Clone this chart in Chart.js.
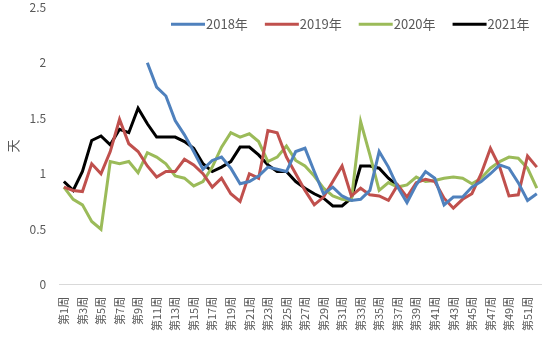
<!DOCTYPE html>
<html>
<head>
<meta charset="utf-8">
<script src="https://cdn.jsdelivr.net/npm/chart.js@4/dist/chart.umd.min.js"></script>
<style>
  html, body { margin: 0; padding: 0; background: #fff; }
  #wrap { width: 550px; height: 352px; }
</style>
</head>
<body>
<div id="wrap"><canvas id="chart"></canvas></div>
<script>
// categories
const weeks = [];
for (let i = 1; i <= 52; i++) weeks.push('第' + i + '周');

// series values
const y2018 = [null, null, null, null, null, null, null, null, null,
  2.0, 1.78, 1.70, 1.48, 1.35, 1.20, 1.04, 1.12, 1.15, 1.05, 0.91,
  0.93, 0.98, 1.06, 1.04, 1.02, 1.20, 1.23, 1.02, 0.82, 0.88,
  0.80, 0.76, 0.77, 0.85, 1.20, 1.06, 0.88, 0.74, 0.90, 1.02,
  0.96, 0.72, 0.79, 0.79, 0.88, 0.93, 1.00, 1.08, 1.05, 0.92,
  0.76, 0.82];
const y2019 = [0.88, 0.85, 0.84, 1.09, 1.00, 1.20, 1.49, 1.27, 1.20, 1.07,
  0.97, 1.02, 1.02, 1.13, 1.08, 1.00, 0.88, 0.96, 0.82, 0.75,
  1.00, 0.96, 1.39, 1.37, 1.15, 1.00, 0.85, 0.72, 0.79, 0.93,
  1.07, 0.80, 0.87, 0.81, 0.80, 0.76, 0.90, 0.79, 0.92, 0.95,
  0.93, 0.78, 0.69, 0.77, 0.82, 1.00, 1.23, 1.06, 0.80, 0.81,
  1.16, 1.06];
const y2020 = [0.88, 0.77, 0.72, 0.57, 0.50, 1.11, 1.09, 1.11, 1.01, 1.19,
  1.15, 1.09, 0.98, 0.96, 0.89, 0.93, 1.06, 1.24, 1.37, 1.33,
  1.36, 1.29, 1.11, 1.15, 1.25, 1.12, 1.07, 0.98, 0.87, 0.80,
  0.77, 0.76, 1.47, 1.17, 0.85, 0.92, 0.88, 0.90, 0.97, 0.93,
  0.94, 0.96, 0.97, 0.96, 0.91, 0.96, 1.05, 1.11, 1.15, 1.14,
  1.05, 0.87];
const y2021 = [0.93, 0.85, 1.02, 1.30, 1.34, 1.26, 1.40, 1.37, 1.59, 1.45,
  1.33, 1.33, 1.33, 1.29, 1.23, 1.09, 1.02, 1.06, 1.11, 1.24,
  1.24, 1.17, 1.08, 1.02, 1.02, 0.93, 0.87, 0.82, 0.78, 0.71,
  0.71, 0.78, 1.07, 1.07, 1.05, 0.96, 0.89];

const seriesNames = ['2018年', '2019年', '2020年', '2021年'];
const seriesColors = ['#4F81BD', '#C0504D', '#9BBB59', '#000000'];
const yTicks = [0, 0.5, 1, 1.5, 2, 2.5];

const textColor = '#595959';
const fontFamily = '"Noto Sans CJK SC", "Noto Sans", sans-serif';

// legend drawn on top of the plot, like the original
const overlayLegend = {
  id: 'overlayLegend',
  afterDraw(chart) {
    const ctx = chart.ctx;
    const area = chart.chartArea;
    ctx.save();
    ctx.font = '13px ' + fontFamily;
    ctx.textBaseline = 'middle';
    const lineLen = 34, gap = 1, spacing = 17;
    const items = chart.data.datasets.map(ds => ({
      text: ds.label, color: ds.borderColor, w: ctx.measureText(ds.label).width
    }));
    let total = items.reduce((s, it) => s + lineLen + gap + it.w, 0) + spacing * (items.length - 1);
    let x = area.right - 12 - total;
    const y = area.top + 17;
    items.forEach(it => {
      ctx.strokeStyle = it.color;
      ctx.lineWidth = 3;
      ctx.beginPath();
      ctx.moveTo(x, y);
      ctx.lineTo(x + lineLen, y);
      ctx.stroke();
      ctx.fillStyle = textColor;
      ctx.fillText(it.text, x + lineLen + gap, y);
      x += lineLen + gap + it.w + spacing;
    });
    ctx.restore();
  }
};

const allSeries = [y2018, y2019, y2020, y2021];

new Chart(document.getElementById('chart'), {
  type: 'line',
  data: {
    labels: weeks,
    datasets: allSeries.map((d, i) => ({
      label: seriesNames[i],
      data: d,
      borderColor: seriesColors[i],
      backgroundColor: seriesColors[i],
      borderWidth: 3,
      pointRadius: 0,
      tension: 0,
      spanGaps: false
    }))
  },
  options: {
    responsive: true,
    maintainAspectRatio: false,
    animation: false,
    layout: { padding: { top: 1, right: -2, left: 5, bottom: 21 } },
    plugins: {
      legend: { display: false },
      tooltip: { enabled: false }
    },
    scales: {
      x: {
        offset: true,
        // invisible tick marks keep the gap between axis and labels
        grid: { display: true, drawOnChartArea: false, drawTicks: true, tickLength: 12, tickColor: 'rgba(0,0,0,0)' },
        border: { display: true, color: '#D9D9D9', width: 1 },
        ticks: {
          autoSkip: false,
          maxRotation: 90,
          minRotation: 90,
          padding: 0,
          color: textColor,
          font: { size: 11, family: fontFamily },
          callback: function (v, i) { return i % 2 === 0 ? weeks[i] : ''; }
        }
      },
      y: {
        min: 0,
        max: 2.5,
        afterBuildTicks: axis => { axis.ticks = yTicks.map(v => ({ value: v })); },
        grid: { display: true, drawOnChartArea: false, drawTicks: true, tickLength: 13, tickColor: 'rgba(0,0,0,0)' },
        border: { display: false },
        title: {
          display: true,
          text: '天',
          color: textColor,
          font: { size: 13, family: fontFamily },
          padding: { top: 0, bottom: 9 }
        },
        ticks: {
          padding: 0,
          color: textColor,
          font: { size: 12, family: fontFamily },
          callback: v => String(v)
        }
      }
    }
  },
  plugins: [overlayLegend]
});
</script>
</body>
</html>
